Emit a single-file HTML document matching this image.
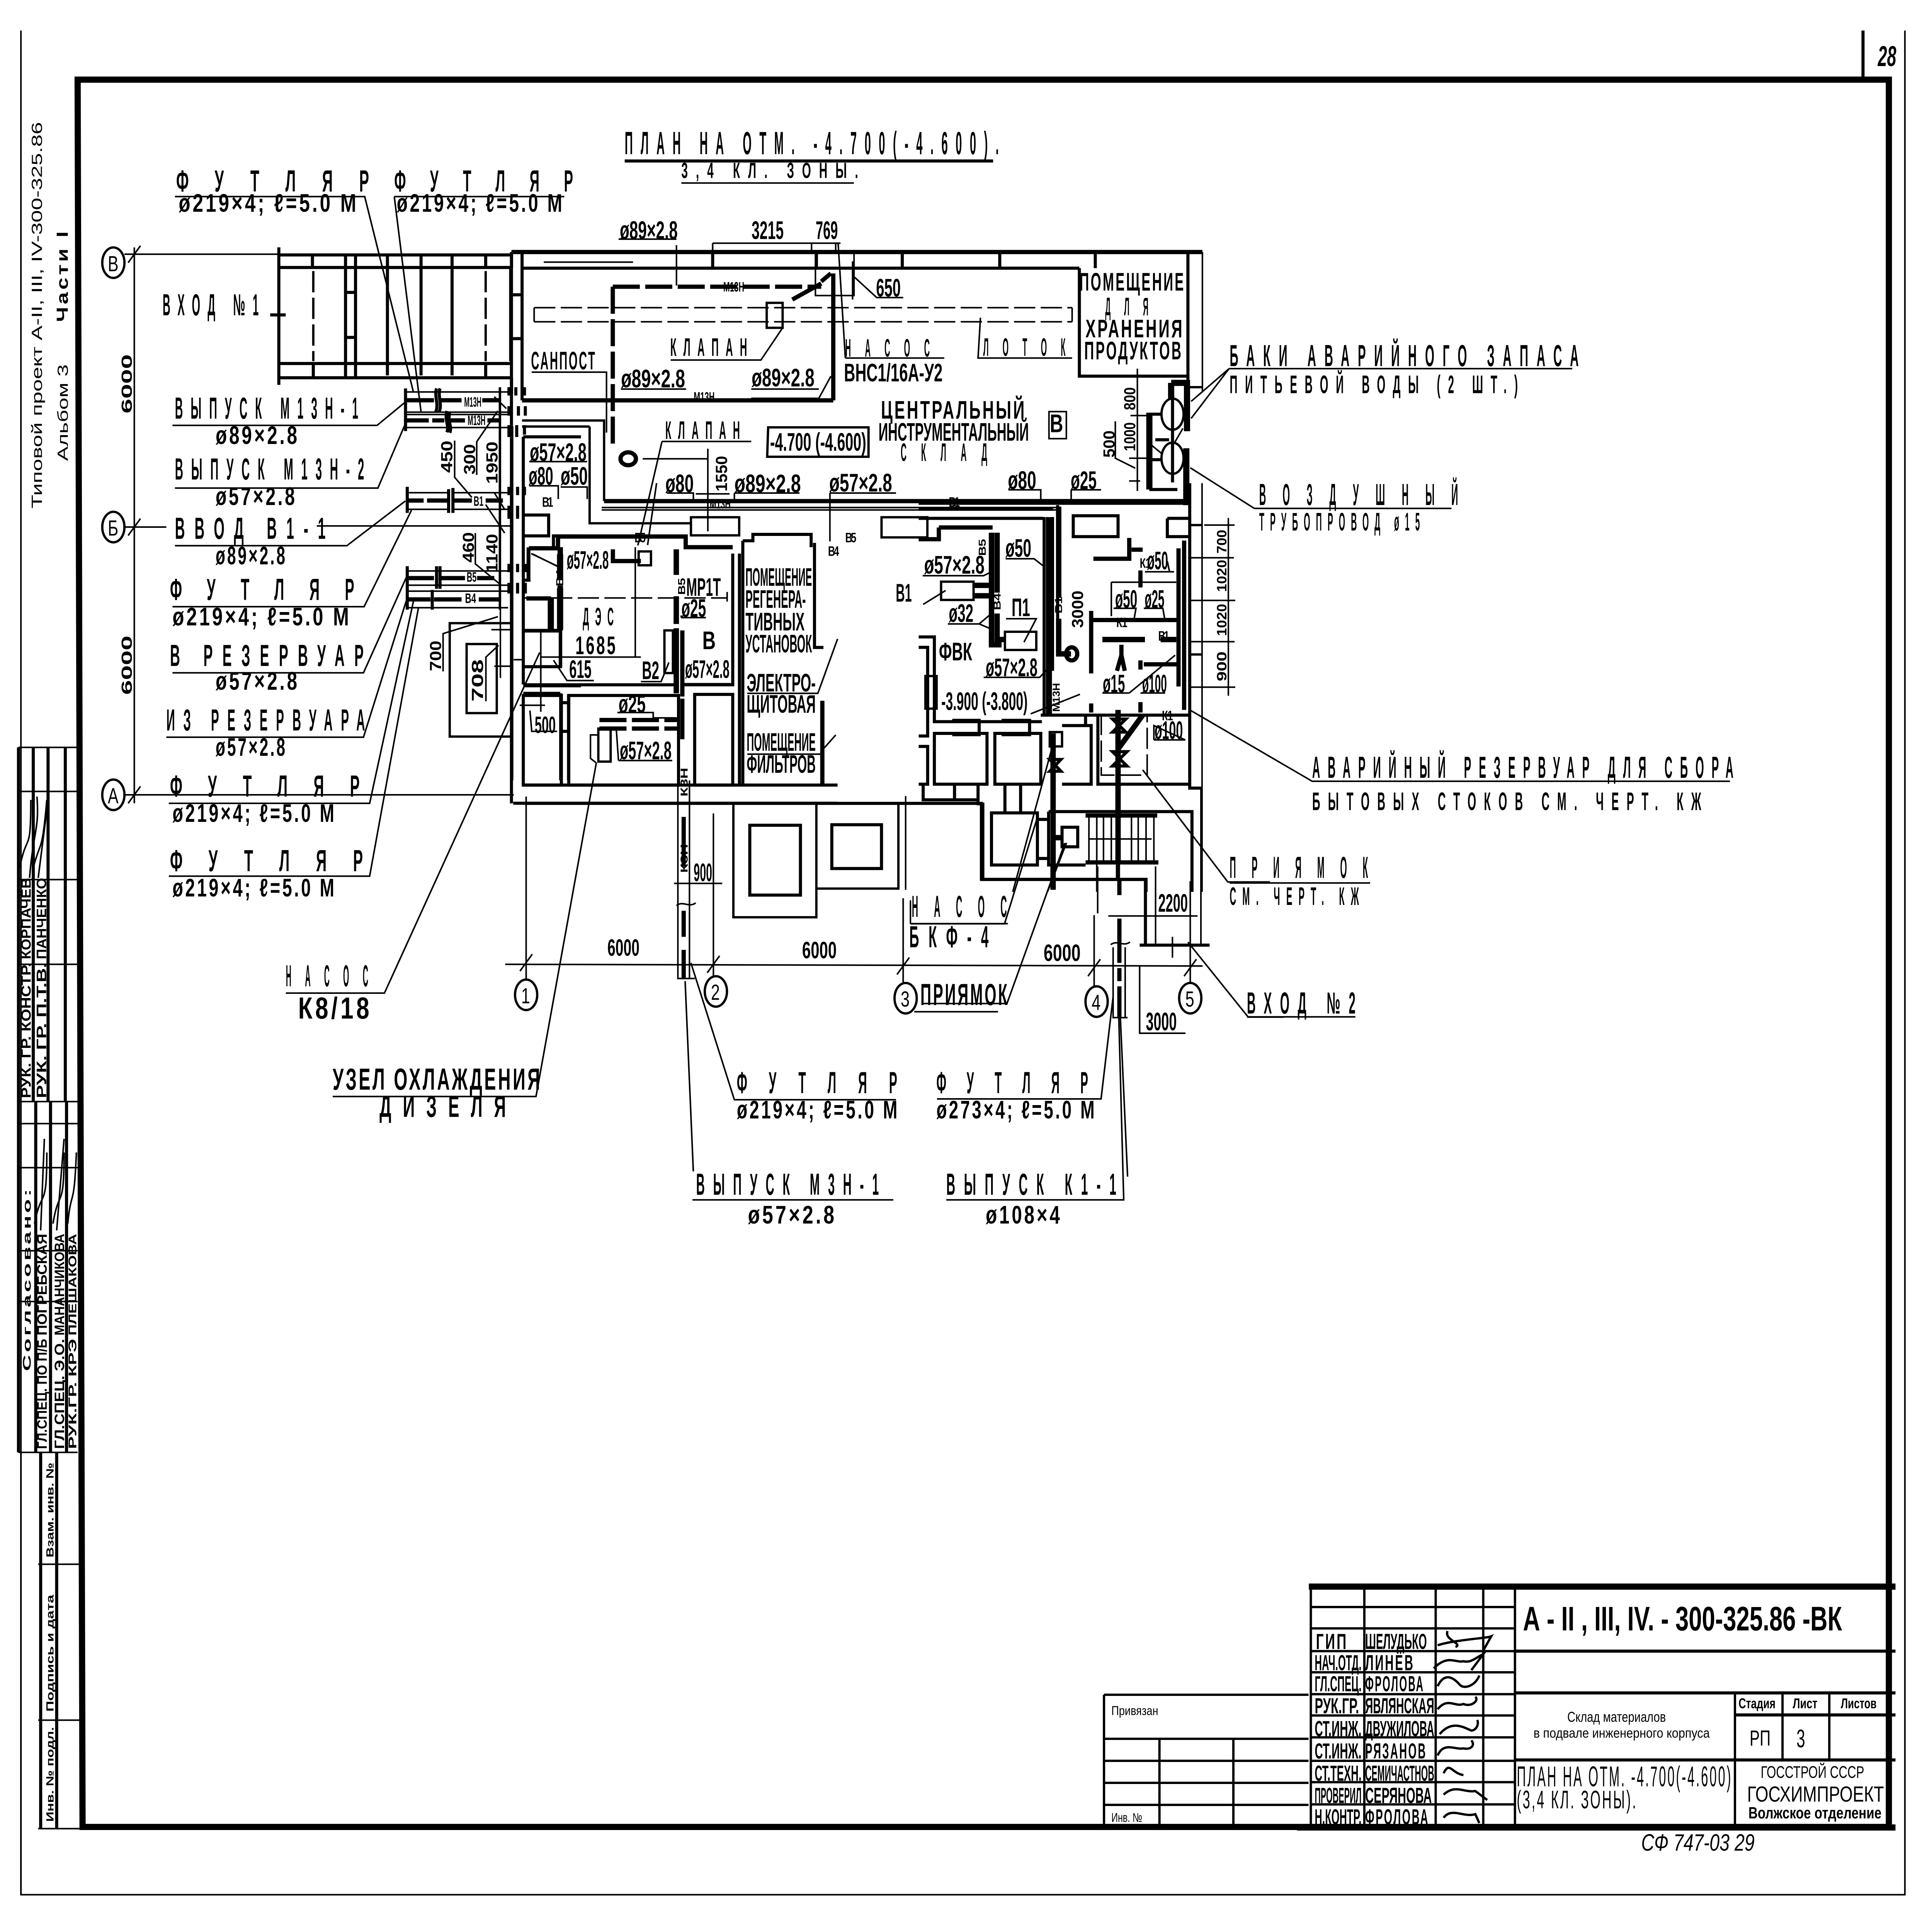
<!DOCTYPE html>
<html><head><meta charset="utf-8"><style>
html,body{margin:0;padding:0;background:#fff;width:100%;height:100%;overflow:hidden}
svg{display:block;width:100vw;height:100vh}
svg *{fill:none;stroke:#000;vector-effect:non-scaling-stroke}
svg text{fill:#000;stroke:none;font-family:"Liberation Sans","DejaVu Sans",sans-serif;font-weight:bold;vector-effect:none}
.n{font-weight:normal}
.a{letter-spacing:.12em}.b{letter-spacing:.7em}.c{letter-spacing:1.8em}.d{letter-spacing:3.2em}
.t4{stroke-width:4}.t5{stroke-width:4}.t7{stroke-width:6}.t10{stroke-width:8}.t14{stroke-width:11}.t16{stroke-width:16}.t20{stroke-width:14}
.dp{stroke-dasharray:70 14}.dl{stroke-dasharray:55 14}
</style></head><body>
<svg xmlns="http://www.w3.org/2000/svg" viewBox="0 0 1568 1140" preserveAspectRatio="none">
<!-- sheet frame -->
<path class="t5" d="M17,18V1118H1546V18"/>
<path class="t16" d="M63,47H1533V1078H67Z"/>
<path class="t10" d="M1512,18V47"/>
<text x="1524" y="39" font-size="17" textLength="15" lengthAdjust="spacingAndGlyphs" font-style="italic">28</text>

<!-- left side -->
<text transform="translate(34,300) rotate(-90)" font-size="12" textLength="228" lengthAdjust="spacingAndGlyphs" class="n">Типовой проект А-II, III, IV-300-325.86</text>
<text transform="translate(55,272) rotate(-90)" font-size="12" textLength="57" lengthAdjust="spacingAndGlyphs" class="n">Альбом 3</text>
<text transform="translate(55,190) rotate(-90)" font-size="13" textLength="55" lengthAdjust="spacingAndGlyphs" class="a">Части I</text>
<path class="t5" d="M15,441H63M15,467H63M15,519H63M15,569H63M15,650H63M15,663H63M15,689H63M15,738H63M15,768H63M15,857H63M31,923H65M31,1015H65M31,1079H67"/>
<path class="t10" d="M15,441V650M15,650V857M27,441V650M29,650V857M39,441V650M41,650V857M53,441V650M54,650V857M33,857V1079M46,857V1079"/>
<path class="t4" d="M17,857V1118"/>
<g font-size="11">
<text transform="translate(25,648) rotate(-90)" textLength="80" lengthAdjust="spacingAndGlyphs">РУК. ГР. КОНСТР.</text>
<text transform="translate(25,566) rotate(-90)" textLength="48" lengthAdjust="spacingAndGlyphs">КОРПАЧЁВ</text>
<text transform="translate(37.5,648) rotate(-90)" textLength="80" lengthAdjust="spacingAndGlyphs">РУК. ГР. П.Т.В.</text>
<text transform="translate(37.5,566) rotate(-90)" textLength="48" lengthAdjust="spacingAndGlyphs">ПАНЧЕНКО</text>
<text transform="translate(25,809) rotate(-90)" font-size="9" textLength="109" lengthAdjust="spacingAndGlyphs" class="a">Согласовано:</text>
<text transform="translate(38,855) rotate(-90)" textLength="65" lengthAdjust="spacingAndGlyphs">ГЛ.СПЕЦ. ПО П/Б</text>
<text transform="translate(38,788) rotate(-90)" textLength="60" lengthAdjust="spacingAndGlyphs">ПОГРЕБСКАЯ</text>
<text transform="translate(52,855) rotate(-90)" textLength="65" lengthAdjust="spacingAndGlyphs">ГЛ.СПЕЦ. Э.О.</text>
<text transform="translate(52,788) rotate(-90)" textLength="60" lengthAdjust="spacingAndGlyphs">МАНАНЧИКОВА</text>
<text transform="translate(62,855) rotate(-90)" font-size="9" textLength="65" lengthAdjust="spacingAndGlyphs">РУК.ГР. КРЭ</text>
<text transform="translate(62,788) rotate(-90)" font-size="9" textLength="60" lengthAdjust="spacingAndGlyphs">ПЛЕШАКОВА</text>
</g>
<g font-size="8.5">
<text transform="translate(43.5,1075) rotate(-90)" textLength="56" lengthAdjust="spacingAndGlyphs">Инв. № подл.</text>
<text transform="translate(43.5,1010) rotate(-90)" textLength="69" lengthAdjust="spacingAndGlyphs">Подпись и дата</text>
<text transform="translate(43.5,919) rotate(-90)" textLength="56" lengthAdjust="spacingAndGlyphs">Взам. инв. №</text>
</g>
<path class="t5" d="M16,512C22,490 25,505 25,472M24,518C27,490 32,490 30,470M27,512C33,495 34,505 38,472M31,518L38,478M28,722C34,700 38,715 38,680M33,726L36,672M43,722C48,700 52,715 52,680M46,726L52,672M55,722C58,700 60,715 62,680"/>

<!-- title block (zoom-4 frame) -->
<g transform="translate(1052.6,932) scale(.3217,.1049)">
<path class="t16" d="M30,40H1510M0,1395H1510"/>
<path class="t7" d="M35,40V1385M170,40V1385M350,40V1385M470,40V1385M550,40V1385M35,155H550M35,275H550M35,403H550M35,522H550M35,645H550M35,765H550M35,888H550M35,1020H550M35,1140H550M35,1265H550"/>
<path class="t10" d="M550,403H1510M550,638H1510M550,1015H1510M1105,762H1510"/>
<path class="t7" d="M1105,638V1385M1225,638V1015M1343,638V1015"/>
<path class="t7" d="M355,370C395,340 480,330 490,320L470,400M380,290C370,340 420,360 400,380M345,500C380,420 400,470 420,460C440,470 450,440 470,420L440,510M355,600C370,530 390,540 410,590C420,620 450,600 460,540M355,730C380,660 400,720 420,700C440,720 460,680 450,660M360,870C390,790 420,830 440,850C450,850 460,820 455,790M355,990C370,910 400,960 420,950C440,960 450,930 440,905M370,1090C385,1020 390,1090 420,1100M370,1210C400,1150 420,1200 450,1190L480,1240M370,1340C390,1280 420,1340 450,1320L460,1370"/>
</g>
<g font-size="13">
<text x="1068" y="973" textLength="26" lengthAdjust="spacingAndGlyphs" class="a">ГИП</text>
<text x="1067" y="985.5" textLength="38" lengthAdjust="spacingAndGlyphs">НАЧ.ОТД.</text>
<text x="1067" y="998" textLength="38" lengthAdjust="spacingAndGlyphs">ГЛ.СПЕЦ.</text>
<text x="1067" y="1011" textLength="36" lengthAdjust="spacingAndGlyphs">РУК.ГР.</text>
<text x="1067" y="1024.4" textLength="38" lengthAdjust="spacingAndGlyphs">СТ.ИНЖ.</text>
<text x="1067" y="1037.6" textLength="38" lengthAdjust="spacingAndGlyphs">СТ.ИНЖ.</text>
<text x="1067" y="1050.7" textLength="38" lengthAdjust="spacingAndGlyphs">СТ.ТЕХН.</text>
<text x="1067" y="1063.9" textLength="38" lengthAdjust="spacingAndGlyphs">ПРОВЕРИЛ</text>
<text x="1067" y="1076.5" textLength="38" lengthAdjust="spacingAndGlyphs">Н.КОНТР.</text>
<text x="1108" y="973" textLength="50" lengthAdjust="spacingAndGlyphs">ШЕЛУДЬКО</text>
<text x="1108" y="985.5" textLength="40" lengthAdjust="spacingAndGlyphs" class="a">ЛИНЁВ</text>
<text x="1108" y="998" textLength="48" lengthAdjust="spacingAndGlyphs" class="a">ФРОЛОВА</text>
<text x="1108" y="1011" textLength="56" lengthAdjust="spacingAndGlyphs">ЯВЛЯНСКАЯ</text>
<text x="1108" y="1024.4" textLength="56" lengthAdjust="spacingAndGlyphs">ДВУЖИЛОВА</text>
<text x="1108" y="1037.6" textLength="50" lengthAdjust="spacingAndGlyphs" class="a">РЯЗАНОВ</text>
<text x="1108" y="1050.7" textLength="56" lengthAdjust="spacingAndGlyphs">СЕМИЧАСТНОВ</text>
<text x="1108" y="1063.9" textLength="54" lengthAdjust="spacingAndGlyphs">СЕРЯНОВА</text>
<text x="1108" y="1076.5" textLength="52" lengthAdjust="spacingAndGlyphs" class="a">ФРОЛОВА</text>
</g>
<text x="1236" y="962" font-size="20" textLength="259" lengthAdjust="spacingAndGlyphs">А - II , III, IV. -  300-325.86 -ВК</text>
<text x="1272" y="1016" font-size="8.5" textLength="80" lengthAdjust="spacingAndGlyphs" class="n">Склад материалов</text>
<text x="1244.6" y="1025.3" font-size="8" textLength="143" lengthAdjust="spacingAndGlyphs" class="n">в подвале инженерного корпуса</text>
<text x="1411" y="1008" font-size="8.5" textLength="30" lengthAdjust="spacingAndGlyphs">Стадия</text>
<text x="1455" y="1008" font-size="8.5" textLength="20" lengthAdjust="spacingAndGlyphs">Лист</text>
<text x="1494" y="1008" font-size="8.5" textLength="29" lengthAdjust="spacingAndGlyphs">Листов</text>
<text x="1420" y="1030" font-size="13" textLength="17" lengthAdjust="spacingAndGlyphs" class="n">РП</text>
<text x="1458" y="1031" font-size="15" textLength="7" lengthAdjust="spacingAndGlyphs" class="n">3</text>
<text x="1231" y="1054" font-size="17" textLength="175" lengthAdjust="spacingAndGlyphs" class="n a">ПЛАН НА ОТМ. -4.700(-4.600)</text>
<text x="1231" y="1067" font-size="15" textLength="98" lengthAdjust="spacingAndGlyphs" class="n a">(3,4 КЛ. ЗОНЫ).</text>
<text x="1429" y="1049" font-size="10" textLength="84" lengthAdjust="spacingAndGlyphs" class="n">ГОССТРОЙ СССР</text>
<text x="1418" y="1063" font-size="13" textLength="111" lengthAdjust="spacingAndGlyphs" class="n">ГОСХИМПРОЕКТ</text>
<text x="1419" y="1073" font-size="9.5" textLength="108" lengthAdjust="spacingAndGlyphs">Волжское отделение</text>
<text x="1332" y="1092" font-size="14" textLength="92" lengthAdjust="spacingAndGlyphs" font-style="italic" class="n">СФ 747-03 29</text>
<!-- привязан -->
<path class="t7" d="M896,1000H1062M896,1000V1078M896,1026H1062M896,1039H1062M896,1052H1062M896,1065H1062M941,1026V1078M1001,1026V1078"/>
<text x="902" y="1012" font-size="7.5" textLength="38" lengthAdjust="spacingAndGlyphs" class="n">Привязан</text>
<text x="902" y="1075" font-size="7.5" textLength="25" lengthAdjust="spacingAndGlyphs" class="n">Инв. №</text>

<!-- axes and dimension lines -->
<g class="t7"><circle cx="92" cy="155" r="9"/><circle cx="92" cy="311" r="9"/><circle cx="92" cy="469" r="9"/>
<circle cx="427" cy="587" r="9"/><circle cx="581" cy="585" r="9"/><circle cx="735" cy="589" r="9"/><circle cx="890" cy="591" r="9"/><circle cx="966" cy="589" r="9"/></g>
<g font-size="13" class="n"><text x="87.5" y="160" class="n">В</text><text x="87.5" y="316" class="n">Б</text><text x="87.5" y="474" class="n">А</text>
<text x="423" y="592" class="n">1</text><text x="577" y="590" class="n">2</text><text x="731" y="594" class="n">3</text><text x="886" y="596" class="n">4</text><text x="962" y="594" class="n">5</text></g>
<path class="t5" d="M101,150H226M101,311H135M101,469H417M109,146V474M104,155L114,145M104,316L114,306M104,474L114,464"/>
<path class="t5" d="M410,569L976,570M427,470V578M579,480V576M733,530V580M888,540V582M966,520V580M422,573L432,563M574,574L584,564M728,575L738,565M883,576L893,566M961,576L971,566"/>
<text transform="translate(107,244) rotate(-90)" font-size="12" textLength="35" lengthAdjust="spacingAndGlyphs">6000</text>
<text transform="translate(107,410) rotate(-90)" font-size="12" textLength="35" lengthAdjust="spacingAndGlyphs">6000</text>
<text x="493" y="564" font-size="14" textLength="26" lengthAdjust="spacingAndGlyphs">6000</text>
<text x="651" y="565.4" font-size="14" textLength="28" lengthAdjust="spacingAndGlyphs">6000</text>
<text x="847" y="567" font-size="14" textLength="30" lengthAdjust="spacingAndGlyphs">6000</text>

<!-- ZOOM-A frame: entry stair and west pipes -->
<g transform="translate(219.3,140.35) scale(.1399)">
<path class="t10" d="M50,40V620M50,72H1400M50,125H1400M50,530H1395M50,590H1400M437,72V590M495,72V590M437,230H495M437,420H495M680,72V580M875,72V580M1055,72V580M245,72V125M250,530V590M1250,72V125M1250,530V590M1395,125V520M1400,590V660M1400,60H1460M1400,240H1460M1400,425H1460M1400,60V125M0,325H90"/>
<path class="t7 dl" d="M250,140V520M1250,140V520"/>
<path class="t5" d="M785,650H1380M785,735H1380M785,745H1380M785,800H1380M795,1075H1030M1060,1075H1390M795,1145H1030M1060,1145H1390M795,1405H1380M795,1465H1380M795,1490H1380M795,1560H1380M270,1215H1400"/>
<path class="t10" d="M785,635V815M795,1050V1160M795,1385V1568M1035,1060V1160M1060,1055V1160M965,635C950,670 980,700 960,735M985,635C970,670 1000,700 980,735M1025,730C1010,770 1040,790 1025,820M1042,735C1027,775 1057,795 1042,822M965,1385V1480M985,1385V1480M940,1485V1568M1385,630V665M1425,630V665M1475,630V665M1385,710V750M1440,710V750M1480,710V750M1385,790V840M1430,790V840M1475,790V830M1385,1050V1085M1435,1050V1085M1475,1050V1085M1385,1130V1185M1435,1130V1185M1385,1375V1410M1435,1375V1410M1480,1375V1410M1385,1455V1500M1435,1455V1500M1480,1455V1500"/>
<path class="t14" d="M785,685H950M985,685H1110M1230,685H1330M790,770H920M940,770H1010M1040,770H1130M1260,770H1340M795,1108H890M910,1108H1030M1065,1108H1170M1250,1108H1350M795,1435H950M985,1435H1130M1200,1435H1300M795,1525H930M950,1525H1110M1210,1525H1340"/>
<path class="t5" d="M1330,630V1568M1070,855V1010L1170,1095M1198,1000V860L1320,730M1190,1245V1375L1340,1465M1300,670L1370,720M1300,1075L1360,1145M1250,1125L1360,1245"/>
</g>

<!-- ZOOM-B frame: pit 708, DES north-west -->
<g transform="translate(318,219.3) scale(.0979,.1538)">
<path class="t7" d="M990,965H480V1400H990"/>
<rect class="t7" x="620" y="1045" width="250" height="265"/>
<path class="t5" d="M425,1150V1005L880,940M780,1265V1095L885,1050M850,1130H1000M900,60V1175M825,990H990M1235,995V1305M1060,1280H1270M1145,1300L1160,1380H1370M1010,1105H1090"/>
<path class="t10" d="M995,210V1568M1090,250V1200M1090,250H1568M1090,630H1300V550H1090M1130,800V680H1340V630H1568M1090,800H1150M1090,995H1400V1135M1090,1205H1568M1090,1240H1400V1568M1465,1240V1568M1400,1270H1465M1400,1380H1465"/>
<path class="t14" d="M1115,870H1320"/>
<path class="t16" d="M1318,870V990M1395,700V800M1395,830V990"/>
<path class="t5" d="M1170,700L1385,750"/>
<text x="0" y="0"></text>
</g>

<!-- ZOOM-1 frame: top plan -->
<g transform="translate(372.8,131.6) scale(.3916,.2378)">
<path class="t14" d="M108,72H1540"/>
<path class="t10" d="M108,72V1440M130,72V440M130,112H1285M525,72V112M740,72V112M918,72V112M1120,72V112M1318,72V112M1285,112V380H1510M1510,72V420"/>
<path class="t5" d="M1540,72V420M108,180H130M108,285H130M175,97H360"/>
<path class="t14 dp" d="M318,158H750"/>
<path class="t14 dp" d="M318,158V560"/>
<path class="t14" d="M750,145L770,125M775,125V440M130,440H775"/>
<rect class="t5" x="738" y="75" width="80" height="105"/>
<rect class="t7" x="637" y="198" width="33" height="62"/>
<path class="t14" d="M690,190L750,150"/>
<path class="t5 dl" d="M155,210H1270M155,245H1270"/>
<path class="t5" d="M155,210V245M1270,210V245M670,260L625,340H438M150,370H305V520M1080,235L1075,335H1270M800,335L785,50M800,335H1005M770,380L745,435H605M450,55V155M330,40H450M525,50H790M525,50V72M730,50V72M780,50V72M815,95V190M815,130L865,185H920M335,412H470M605,412H745M420,542H605M420,542L370,800"/>
<path class="t7" d="M130,490H300V690M270,505V745H480M130,505H270"/>
<circle class="t14" cx="350" cy="585" r="16"/>
<path class="t14" d="M300,690H1505"/>
<path class="t5" d="M380,585H515M515,560V765M490,672H560M520,672H560"/>
<path class="t5" d="M295,712H1240M295,706H1240"/>
<path class="t10" d="M1240,700V1000M1225,730V1220"/>
<rect class="t7" x="480" y="730" width="100" height="45"/>
<rect class="t7" x="875" y="730" width="95" height="50"/>
<path class="t7" d="M640,507H848V580H638Z"/>
<rect class="t5" x="1222" y="468" width="36" height="67"/>
<path class="t5" d="M430,670H485V688M570,670H705M570,670V690M768,670H905M768,670V790M1138,662H1205V690M1268,662H1330M1268,662V690M145,652H205V685M210,655H265V685M145,592H265"/>
</g>

<!-- ZOOM-C frame: tanks and east wall -->
<g transform="translate(877.2,197.4) scale(.1119,.1678)">
<ellipse class="t7" cx="665" cy="280" rx="80" ry="55"/><ellipse class="t7" cx="665" cy="435" rx="80" ry="55"/>
<path class="t16" d="M497,275V545M655,170H770V340M765,400V600M655,170V230"/>
<path class="t10" d="M497,440H590M497,280H590M497,545H700M665,230V520M540,370H640"/>
<path class="t5" d="M410,120V550M250,305V435L395,470M350,515H430M350,435H490M360,285H490M515,390L590,420M680,380L740,330"/>
<path class="t5" d="M800,235L1075,120M800,295L1075,120"/>
<path class="t5" d="M1070,645V1270M895,670H1115M790,785H1110M790,935H1120M790,1080H1115M790,1240H1120"/>
<path class="t7" d="M790,185H880M790,670H880M790,1125H880"/>
</g>

<!-- ZOOM-3 frame: DES etc -->
<g transform="translate(394.7,285.1) scale(.1818,.1259)">
<path class="t14" d="M190,305H320V250H890V300H1100"/>
<path class="t10" d="M190,305V450M165,945H840M165,985H330M1100,330V945H880M1130,330V1415M1145,270V1415M1145,270H1190V240H1450V300M1465,280V770H1505M165,1415H1568M120,1500H1568"/>
<path class="t10" d="M170,690H330V860H165"/>
<rect class="t10" x="165" y="995" width="170" height="420"/>
<rect class="t10" x="368" y="995" width="490" height="420"/>
<rect class="t10" x="930" y="990" width="170" height="425"/>
<path class="t20" d="M330,300V420M330,480V690M848,310V430M848,530V660M848,680V985"/>
<path class="t14" d="M875,690V1000M875,1010V1200"/>
<path class="t14 dp" d="M505,1110H860M505,1150H860"/>
<rect class="t7" x="500" y="1150" width="55" height="155"/>
<path class="t5 dl" d="M170,538H1075"/>
<path class="t5" d="M1075,510V555"/>
<path class="t14" d="M565,310V365H690"/>
<rect class="t7" x="680" y="320" width="55" height="65"/>
<path class="t5" d="M665,300V815M240,815H690M200,330L330,395M300,830L360,925H480M760,0L720,290M690,930H780L800,880L815,840"/>
<rect class="t7" x="795" y="690" width="38" height="200"/>
<path class="t14" d="M1500,1020V1410"/>
<path class="t5" d="M590,1300H830M580,1150L590,1300M500,1180H465V1290L490,1310M1505,1270H1480H1165M1505,1245L1560,1180M1165,985H1480L1568,730M870,940H1090M870,630H980M870,630V620M585,1075H745V1100H850"/>
</g>

<!-- ZOOM-2 frame: right part -->
<g transform="translate(745.6,285.1) scale(.1818,.1538)">
<path class="t10" d="M1210,0V1170H1265M560,130V885M575,130V885M0,100H600M0,135H555"/>
<path class="t5" d="M1265,0V1568"/>
<path class="t14" d="M0,75H1210"/>
<rect class="t10" x="690" y="125" width="200" height="80"/>
<path class="t10" d="M1110,135H1210M1110,135V205H1210M0,590H70V915H150M0,630H40V970H0M70,915H550M150,910H270V965H150M370,910H495V965H370M70,960H305V1155H70ZM340,960H545V1155H340ZM0,1010H40V1155H0M20,1155V1215H265V1230H280V1520H1015V1568M160,1155V1215M265,1155V1215M385,1155V1260M455,1155V1260M545,890H1210"/>
<rect class="t7" x="30" y="740" width="50" height="125"/>
<rect class="t10" x="325" y="1265" width="205" height="200"/>
<path class="t10" d="M530,1290H580M530,1440H580M580,1260H1220V1568M580,1260V1465H745M640,930H770V1155H640M745,885V930M800,885V1155H1215"/>
<path class="t5 dl" d="M815,885V1120H1020V885"/>
<path class="t14" d="M745,1275H1065M745,1455H1070"/>
<path class="t5" d="M760,1270V1455M795,1270V1455M825,1270V1455M860,1270V1455M890,1270V1455M950,1270V1455M980,1270V1455M1015,1270V1455M1050,1270V1455M760,1365H1040M795,1455V1568"/>
<path class="t20" d="M625,90V440M625,520V655H680M820,600H1010M1080,600H1150"/>
<circle class="t14" cx="683" cy="655" r="25"/>
<path class="t14" d="M595,130V720M1160,250V780M1185,220V870M770,490V730M770,525H1160"/>
<path class="t14" d="M950,255H1000M940,210V290H780"/>
<path class="t20" d="M325,190V620H370M350,190V420M350,500V600H380M245,392H320M245,432H320M890,870V1450M890,1020L1000,890M600,960V1560M600,1120V1360H640"/>
<path class="t14" d="M90,170H330M0,215H90V170"/>
<rect class="t7" x="100" y="378" width="145" height="70"/>
<rect class="t7" x="385" y="570" width="140" height="70"/>
<rect class="t10" x="640" y="1320" width="70" height="75"/>
<rect class="t7" x="585" y="955" width="55" height="55"/>
<path class="t10" d="M585,1060H635L585,1105H635ZM865,905H925L865,955H925ZM865,1030H930L865,1085H930Z"/>
<path class="t5" d="M860,380H1150M860,380V510M990,335V400M1010,340H1140L1120,340L1110,300M870,480H970L960,530M1005,480H1090L1100,530M940,805L1145,660M820,805H940M990,805H1100M500,885L720,810M290,745H540L590,700M1000,1100L1380,1530H1568M600,1000L420,1568M660,1380L575,1568M388,290H515L560,320M18,355H290L325,340M130,540H270L325,500M270,540L325,560M20,465L120,412M470,610L525,520H390M1050,985H1190L1050,930V985"/>
<path class="t14" d="M990,680V715M1005,695H1160M990,335V400M770,845V880M990,840V880"/>
<path class="t14" d="M905,620V660L885,720M905,660L920,720"/>
</g>

<!-- ZOOM-6 frame: lower -->
<g transform="translate(427.6,460.5) scale(.3916,.1538)">
<path class="t10" d="M0,88H945"/>
<path class="t7" d="M428,90V525H600V90M600,415H770V90"/>
<rect class="t10" x="462" y="172" width="105" height="268"/>
<rect class="t10" x="632" y="170" width="103" height="168"/>
<path class="t10" d="M945,85V380H1282V632M1270,632H1415"/>
<path class="t5" d="M1303,330V632M1397,30V632M785,60V420M1183,330V510M1270,710V970H1365M1338,600V680M1205,520H1390M305,395H405M1370,620L1495,908H1568M795,550H990L1060,130M820,856H995L1115,240M795,460V550"/>
<path class="t14" d="M325,140V330M325,500V600M325,650V760M1228,380V440M1228,530V700M1228,720V770M1228,790V910M1225,0V380"/>
<path class="t5" d="M313,0V760H348M337,0V760M1215,640V910H1245M1240,640V910M1210,630C1225,610 1235,640 1250,620M310,480C325,460 335,490 350,470"/>
<path class="t5" d="M340,700L430,1225H765M328,770L345,1500M850,1222H1190L1215,830M1230,910L1245,1520"/>
</g>

<!-- leaders -->
<g class="t5">
<path d="M142,116H296L335.4,231M320,116H458M320,116L341.7,243M140,251H306L328.4,237.6M142,288H306.7L329,250M142,322H281.5L329,295.6M140,358H295.5L334,301M140,397H295L329.7,340.8M135,435H295L329.7,354.6M137,474H300L335.6,354.6M137,517H300L339.5,359"/>
<path d="M232,586H312L438,385M270,647H435L484,450M562,708H725M768,708H912L908,600M740,545H818M742,597H810M998,521H1112M1012,600H1100M1018,300H1178M966,276L1018,300M997.5,217.5H1276M965.6,418.9L1065,461H1404"/>
</g>
<path class="t10" d="M507,95H806"/>
<path class="t5" d="M553,108H693"/>

<!-- top labels -->
<text x="507" y="91" font-size="19" textLength="310" lengthAdjust="spacingAndGlyphs" class="b">ПЛАН НА ОТМ. -4.700(-4.600).</text>
<text x="553" y="105" font-size="13" textLength="150" lengthAdjust="spacingAndGlyphs" class="b">3,4 КЛ. ЗОНЫ.</text>

<g font-size="18">
<text x="143" y="113" textLength="178" lengthAdjust="spacingAndGlyphs" class="c">ФУТЛЯР</text>
<text x="320" y="113" textLength="165" lengthAdjust="spacingAndGlyphs" class="c">ФУТЛЯР</text>
<text x="138" y="354" textLength="170" lengthAdjust="spacingAndGlyphs" class="c">ФУТЛЯР</text>
<text x="138" y="470" textLength="175" lengthAdjust="spacingAndGlyphs" class="c">ФУТЛЯР</text>
<text x="138" y="514" textLength="178" lengthAdjust="spacingAndGlyphs" class="c">ФУТЛЯР</text>
<text x="598" y="645" textLength="148" lengthAdjust="spacingAndGlyphs" class="c">ФУТЛЯР</text>
<text x="760" y="645" textLength="140" lengthAdjust="spacingAndGlyphs" class="c">ФУТЛЯР</text>
<text x="132" y="186" textLength="84" lengthAdjust="spacingAndGlyphs" class="b">ВХОД №1</text>
<text x="142" y="247" textLength="155" lengthAdjust="spacingAndGlyphs" class="b">ВЫПУСК М13Н-1</text>
<text x="142" y="283" textLength="160" lengthAdjust="spacingAndGlyphs" class="b">ВЫПУСК М13Н-2</text>
<text x="142" y="318" textLength="130" lengthAdjust="spacingAndGlyphs" class="b">ВВОД В1-1</text>
<text x="138" y="393" textLength="165" lengthAdjust="spacingAndGlyphs" class="b">В РЕЗЕРВУАР</text>
<text x="135" y="431" textLength="168" lengthAdjust="spacingAndGlyphs" class="b">ИЗ РЕЗЕРВУАРА</text>
<text x="232" y="582" textLength="78" lengthAdjust="spacingAndGlyphs" class="c">НАСОС</text>
<text x="242" y="601" textLength="60" lengthAdjust="spacingAndGlyphs" class="a">К8/18</text>
<text x="270" y="643" textLength="170" lengthAdjust="spacingAndGlyphs" class="a">УЗЕЛ ОХЛАЖДЕНИЯ</text>
<text x="308" y="659" textLength="112" lengthAdjust="spacingAndGlyphs" class="b">ДИЗЕЛЯ</text>
<text x="565" y="705" textLength="155" lengthAdjust="spacingAndGlyphs" class="b">ВЫПУСК М3Н-1</text>
<text x="768" y="705" textLength="145" lengthAdjust="spacingAndGlyphs" class="b">ВЫПУСК К1-1</text>
<text x="740" y="541" textLength="90" lengthAdjust="spacingAndGlyphs" class="c">НАСОС</text>
<text x="738" y="559" textLength="72" lengthAdjust="spacingAndGlyphs" class="b">БКФ-4</text>
<text x="747" y="593" textLength="72" lengthAdjust="spacingAndGlyphs" class="a">ПРИЯМОК</text>
<text x="1012" y="598" textLength="95" lengthAdjust="spacingAndGlyphs" class="b">ВХОД №2</text>
<text x="998" y="518" textLength="125" lengthAdjust="spacingAndGlyphs" class="c">ПРИЯМОК</text>
<text x="1065" y="459" textLength="348" lengthAdjust="spacingAndGlyphs" class="b">АВАРИЙНЫЙ РЕЗЕРВУАР ДЛЯ СБОРА</text>
<text x="1022" y="298" textLength="175" lengthAdjust="spacingAndGlyphs" class="c">ВОЗДУШНЫЙ</text>
<text x="998" y="216" textLength="290" lengthAdjust="spacingAndGlyphs" class="b">БАКИ АВАРИЙНОГО ЗАПАСА</text>
</g>
<g font-size="15">
<text x="145" y="125" textLength="146" lengthAdjust="spacingAndGlyphs" class="a">ø219×4; ℓ=5.0 М</text>
<text x="322" y="125" textLength="136" lengthAdjust="spacingAndGlyphs" class="a">ø219×4; ℓ=5.0 М</text>
<text x="175" y="262" textLength="68" lengthAdjust="spacingAndGlyphs" class="a">ø89×2.8</text>
<text x="175" y="298" textLength="66" lengthAdjust="spacingAndGlyphs" class="a">ø57×2.8</text>
<text x="175" y="333" textLength="58" lengthAdjust="spacingAndGlyphs" class="a">ø89×2.8</text>
<text x="140" y="369" textLength="145" lengthAdjust="spacingAndGlyphs" class="a">ø219×4; ℓ=5.0 М</text>
<text x="175" y="407" textLength="68" lengthAdjust="spacingAndGlyphs" class="a">ø57×2.8</text>
<text x="175" y="446" textLength="58" lengthAdjust="spacingAndGlyphs" class="a">ø57×2.8</text>
<text x="140" y="485" textLength="133" lengthAdjust="spacingAndGlyphs" class="a">ø219×4; ℓ=5.0 М</text>
<text x="140" y="529" textLength="133" lengthAdjust="spacingAndGlyphs" class="a">ø219×4; ℓ=5.0 М</text>
<text x="598" y="660" textLength="132" lengthAdjust="spacingAndGlyphs" class="a">ø219×4; ℓ=5.0 М</text>
<text x="760" y="660" textLength="130" lengthAdjust="spacingAndGlyphs" class="a">ø273×4; ℓ=5.0 М</text>
<text x="607" y="722" textLength="72" lengthAdjust="spacingAndGlyphs" class="a">ø57×2.8</text>
<text x="800" y="722" textLength="62" lengthAdjust="spacingAndGlyphs" class="a">ø108×4</text>
<text x="998" y="534" textLength="110" lengthAdjust="spacingAndGlyphs" class="b">СМ. ЧЕРТ. КЖ</text>
<text x="1065" y="478" textLength="322" lengthAdjust="spacingAndGlyphs" class="b">БЫТОВЫХ СТОКОВ СМ. ЧЕРТ. КЖ</text>
<text x="1022" y="313" textLength="135" lengthAdjust="spacingAndGlyphs" class="b">ТРУБОПРОВОД ø15</text>
<text x="998" y="232" textLength="240" lengthAdjust="spacingAndGlyphs" class="b">ПИТЬЕВОЙ ВОДЫ (2 ШТ.)</text>
</g>
<g font-size="15">
<text x="431" y="218" textLength="53" lengthAdjust="spacingAndGlyphs" class="a">САНПОСТ</text>
<text x="544" y="210" textLength="68" lengthAdjust="spacingAndGlyphs" class="b">КЛАПАН</text>
<text x="540" y="259" textLength="66" lengthAdjust="spacingAndGlyphs" class="b">КЛАПАН</text>
<text x="504" y="228.6" textLength="52" lengthAdjust="spacingAndGlyphs">ø89×2.8</text>
<text x="610" y="228" textLength="51" lengthAdjust="spacingAndGlyphs">ø89×2.8</text>
<text x="503" y="141" textLength="47" lengthAdjust="spacingAndGlyphs">ø89×2.8</text>
<text x="610" y="141" textLength="26" lengthAdjust="spacingAndGlyphs">3215</text>
<text x="662" y="141" textLength="18" lengthAdjust="spacingAndGlyphs">769</text>
<text x="711" y="175" textLength="20" lengthAdjust="spacingAndGlyphs">650</text>
<text x="686" y="210.5" textLength="80" lengthAdjust="spacingAndGlyphs" class="c">НАСОС</text>
<text x="685" y="225" textLength="80" lengthAdjust="spacingAndGlyphs">ВНС1/16А-У2</text>
<text x="798" y="210" textLength="78" lengthAdjust="spacingAndGlyphs" class="c">ЛОТОК</text>
<text x="876" y="171.5" textLength="86" lengthAdjust="spacingAndGlyphs" class="a">ПОМЕЩЕНИЕ</text>
<text x="897" y="186" textLength="46" lengthAdjust="spacingAndGlyphs" class="c">ДЛЯ</text>
<text x="881" y="199" textLength="80" lengthAdjust="spacingAndGlyphs" class="a">ХРАНЕНИЯ</text>
<text x="880" y="212" textLength="80" lengthAdjust="spacingAndGlyphs" class="a">ПРОДУКТОВ</text>
<text x="715" y="247" textLength="118" lengthAdjust="spacingAndGlyphs" class="a">ЦЕНТРАЛЬНЫЙ</text>
<text x="713" y="260" textLength="122" lengthAdjust="spacingAndGlyphs">ИНСТРУМЕНТАЛЬНЫЙ</text>
<text x="731" y="272" textLength="82" lengthAdjust="spacingAndGlyphs" class="c">СКЛАД</text>
<text x="852" y="255" textLength="10">В</text>
<text x="625" y="266" textLength="78" lengthAdjust="spacingAndGlyphs">-4.700 (-4.600)</text>
<text x="540" y="290.5" textLength="23" lengthAdjust="spacingAndGlyphs">ø80</text>
<text x="596" y="290.5" textLength="54" lengthAdjust="spacingAndGlyphs">ø89×2.8</text>
<text x="673" y="290" textLength="51" lengthAdjust="spacingAndGlyphs">ø57×2.8</text>
<text x="818" y="288.5" textLength="23" lengthAdjust="spacingAndGlyphs">ø80</text>
<text x="869" y="288.5" textLength="21" lengthAdjust="spacingAndGlyphs">ø25</text>
<text x="430" y="272" textLength="46" lengthAdjust="spacingAndGlyphs">ø57×2.8</text>
<text x="429" y="286" textLength="20" lengthAdjust="spacingAndGlyphs">ø80</text>
<text x="455" y="286" textLength="22" lengthAdjust="spacingAndGlyphs">ø50</text>
<text x="460" y="335.6" textLength="34" lengthAdjust="spacingAndGlyphs">ø57×2.8</text>
<text x="473" y="369" textLength="30" lengthAdjust="spacingAndGlyphs" class="b">ДЭС</text>
<text x="467" y="386" textLength="34" lengthAdjust="spacingAndGlyphs" class="a">1685</text>
<text x="462" y="400" textLength="18" lengthAdjust="spacingAndGlyphs">615</text>
<text x="521" y="400.7" textLength="14" lengthAdjust="spacingAndGlyphs">В2</text>
<text x="557" y="351.6" textLength="28" lengthAdjust="spacingAndGlyphs">МР1Т</text>
<text x="553" y="364" textLength="20" lengthAdjust="spacingAndGlyphs">ø25</text>
<text x="570" y="383" textLength="10">В</text>
<text x="556" y="400" textLength="36" lengthAdjust="spacingAndGlyphs">ø57×2.8</text>
<text x="605" y="345.6" textLength="54" lengthAdjust="spacingAndGlyphs">ПОМЕЩЕНИЕ</text>
<text x="605" y="358.7" textLength="49" lengthAdjust="spacingAndGlyphs">РЕГЕНЕРА-</text>
<text x="605" y="372" textLength="48" lengthAdjust="spacingAndGlyphs">ТИВНЫХ</text>
<text x="605" y="385" textLength="54" lengthAdjust="spacingAndGlyphs">УСТАНОВОК</text>
<text x="606" y="408" textLength="56" lengthAdjust="spacingAndGlyphs">ЭЛЕКТРО-</text>
<text x="606" y="420.5" textLength="56" lengthAdjust="spacingAndGlyphs">ЩИТОВАЯ</text>
<text x="606" y="443" textLength="56" lengthAdjust="spacingAndGlyphs">ПОМЕЩЕНИЕ</text>
<text x="606" y="456" textLength="56" lengthAdjust="spacingAndGlyphs">ФИЛЬТРОВ</text>
<text x="502" y="420.5" textLength="22" lengthAdjust="spacingAndGlyphs">ø25</text>
<text x="503" y="448" textLength="42" lengthAdjust="spacingAndGlyphs">ø57×2.8</text>
<text x="434" y="432.5" font-size="14" textLength="17" lengthAdjust="spacingAndGlyphs">500</text>
<text x="750" y="338.5" textLength="49" lengthAdjust="spacingAndGlyphs">ø57×2.8</text>
<text x="727" y="355" textLength="13" lengthAdjust="spacingAndGlyphs">В1</text>
<text x="770" y="367" textLength="20" lengthAdjust="spacingAndGlyphs">ø32</text>
<text x="821" y="363.5" textLength="15" lengthAdjust="spacingAndGlyphs">П1</text>
<text x="816" y="328.5" textLength="21" lengthAdjust="spacingAndGlyphs">ø50</text>
<text x="762" y="389.6" textLength="27" lengthAdjust="spacingAndGlyphs">ФВК</text>
<text x="800" y="399" textLength="42" lengthAdjust="spacingAndGlyphs">ø57×2.8</text>
<text x="764" y="419" textLength="70" lengthAdjust="spacingAndGlyphs">-3.900 (-3.800)</text>
<text x="937" y="436" textLength="23" lengthAdjust="spacingAndGlyphs">ø100</text>
<text x="895" y="408.6" textLength="18" lengthAdjust="spacingAndGlyphs">ø15</text>
<text x="927" y="408.6" textLength="20" lengthAdjust="spacingAndGlyphs">ø100</text>
<text x="905" y="358.7" textLength="18" lengthAdjust="spacingAndGlyphs">ø50</text>
<text x="929" y="358.7" textLength="16" lengthAdjust="spacingAndGlyphs">ø25</text>
<text x="931" y="336" textLength="17" lengthAdjust="spacingAndGlyphs">ø50</text>
<text x="563" y="520" textLength="15" lengthAdjust="spacingAndGlyphs">900</text>
<text x="940" y="538" textLength="24" lengthAdjust="spacingAndGlyphs">2200</text>
<text x="930" y="608" textLength="25" lengthAdjust="spacingAndGlyphs">3000</text>
</g>
<g font-size="13">
<text transform="translate(367,279) rotate(-90)" textLength="19" lengthAdjust="spacingAndGlyphs">450</text>
<text transform="translate(385.5,280) rotate(-90)" textLength="18" lengthAdjust="spacingAndGlyphs">300</text>
<text transform="translate(403.7,285.5) rotate(-90)" textLength="25" lengthAdjust="spacingAndGlyphs">1950</text>
<text transform="translate(384.6,332) rotate(-90)" textLength="18" lengthAdjust="spacingAndGlyphs">460</text>
<text transform="translate(403.7,338) rotate(-90)" textLength="23" lengthAdjust="spacingAndGlyphs">1140</text>
<text transform="translate(358,396) rotate(-90)" textLength="18" lengthAdjust="spacingAndGlyphs">700</text>
<text transform="translate(392,414) rotate(-90)" textLength="25" lengthAdjust="spacingAndGlyphs">708</text>
<text transform="translate(590,290) rotate(-90)" textLength="21" lengthAdjust="spacingAndGlyphs">1550</text>
<text transform="translate(879,370.5) rotate(-90)" textLength="22" lengthAdjust="spacingAndGlyphs">3000</text>
<text transform="translate(904.6,270) rotate(-90)" textLength="16" lengthAdjust="spacingAndGlyphs">500</text>
<text transform="translate(921.4,266.2) rotate(-90)" textLength="17" lengthAdjust="spacingAndGlyphs">1000</text>
<text transform="translate(921.4,242) rotate(-90)" textLength="13.5" lengthAdjust="spacingAndGlyphs">800</text>
</g>
<g font-size="11">
<text transform="translate(995.3,326.6) rotate(-90)" textLength="14" lengthAdjust="spacingAndGlyphs">700</text>
<text transform="translate(995.3,349.3) rotate(-90)" textLength="19" lengthAdjust="spacingAndGlyphs">1020</text>
<text transform="translate(995.3,375.3) rotate(-90)" textLength="19" lengthAdjust="spacingAndGlyphs">1020</text>
<text transform="translate(995.3,402) rotate(-90)" textLength="17.6" lengthAdjust="spacingAndGlyphs">900</text>
</g>
<g font-size="8">
<text x="587" y="172" textLength="17" lengthAdjust="spacingAndGlyphs">М13Н</text>
<text x="563" y="237" textLength="17" lengthAdjust="spacingAndGlyphs">М13Н</text>
<text x="576" y="300" textLength="17" lengthAdjust="spacingAndGlyphs">М13Н</text>
<text x="376.7" y="240" textLength="14" lengthAdjust="spacingAndGlyphs">М13Н</text>
<text x="379.5" y="250.8" textLength="14.5" lengthAdjust="spacingAndGlyphs">М13Н</text>
<text x="384.4" y="298.4" textLength="8" lengthAdjust="spacingAndGlyphs">В1</text>
<text x="440" y="299" textLength="9">В1</text>
<text x="770" y="299" textLength="9">В1</text>
<text x="378.8" y="343.2" textLength="8" lengthAdjust="spacingAndGlyphs">В5</text>
<text x="377.4" y="355.8" textLength="9" lengthAdjust="spacingAndGlyphs">В4</text>
<text x="515" y="320" textLength="9">В5</text>
<text x="686" y="320" textLength="9">В5</text>
<text x="672" y="328" textLength="9">В4</text>
<text transform="translate(556,351) rotate(-90)" textLength="10">В5</text>
<text transform="translate(457,346) rotate(-90)" textLength="10">В4</text>
<text transform="translate(800,328) rotate(-90)" textLength="10">В5</text>
<text transform="translate(812,360) rotate(-90)" textLength="10">В4</text>
<text transform="translate(862,362) rotate(-90)" textLength="10">В1</text>
<text transform="translate(558,470) rotate(-90)" textLength="17" lengthAdjust="spacingAndGlyphs">К3Н</text>
<text transform="translate(558,515) rotate(-90)" textLength="17" lengthAdjust="spacingAndGlyphs">К3Н</text>
<text transform="translate(860,420) rotate(-90)" textLength="17" lengthAdjust="spacingAndGlyphs">М13Н</text>
<text x="925" y="335" textLength="9">К1</text>
<text x="906" y="370" textLength="9">К1</text>
<text x="940" y="378" textLength="9">В1</text>
<text x="943" y="425" textLength="9">К1</text>
</g>
</svg>
</body></html>
